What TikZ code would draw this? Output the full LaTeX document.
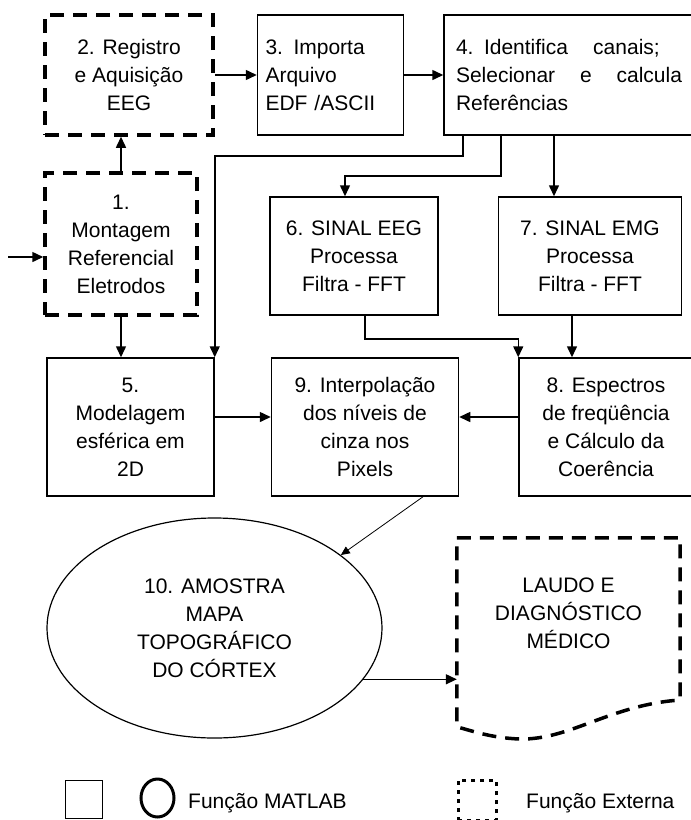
\documentclass[tikz,border=0pt]{standalone}
\usepackage{fontspec}
\setmainfont{Liberation Sans}
\usetikzlibrary{positioning,arrows.meta,shapes.geometric}
\newcommand{\boxfont}{\fontsize{21}{28}\selectfont}

\begin{document}
\begin{tikzpicture}[
    x=1pt, y=-1pt,
    >={Triangle[length=11pt,width=10pt]},
    proc/.style={rectangle, draw=black, line width=1.5pt, align=center, inner sep=3pt, font=\boxfont},
    ext/.style={proc, line width=3.5pt, dash pattern=on 14pt off 9pt},
    arrow/.style={->, line width=1.5pt}
  ]
  \useasboundingbox (0,0) rectangle (691,820);

  \node[ext, minimum width=168pt, minimum height=120pt] (reg) at (129,75) {2. Registro\\e Aquisição\\EEG};
  \node[proc, minimum width=146pt, minimum height=120pt, align=left, text width=130pt, right=42pt of reg] (imp) {3. Importa\\Arquivo\\EDF /ASCII};
  \node[proc, minimum width=250pt, minimum height=120pt, align=left, text width=226pt, right=39pt of imp] (ident) {4. Identifica\hspace{1.2em}canais;\\Selecionar\hfill e\hfill calcula\\Referências};

  \node[ext, minimum width=152pt, minimum height=142pt] (mont) at (121,244) {1.\\Montagem\\Referencial\\Eletrodos};
  \node[proc, minimum width=168pt, minimum height=118pt] (eeg) at (354,256) {6. SINAL EEG\\Processa\\Filtra - FFT};
  \node[proc, minimum width=183pt, minimum height=118pt, right=59pt of eeg] (emg) {7. SINAL EMG\\Processa\\Filtra - FFT};

  \node[proc, minimum width=167pt, minimum height=138pt] (mod) at (130.5,427) {5.\\Modelagem\\esférica em\\2D};
  \node[proc, minimum width=187pt, minimum height=138pt, right=56pt of mod] (interp) {9. Interpolação\\dos níveis de\\cinza nos\\Pixels};
  \node[proc, minimum width=174pt, minimum height=138pt, right=59pt of interp] (espec) {8. Espectros\\de freqüência\\e Cálculo da\\Coerência};

  \node[ellipse, draw=black, line width=1.2pt, minimum width=335pt, minimum height=220pt, inner sep=0pt, align=center, font=\boxfont] (mapa) at (214.5,628) {10. AMOSTRA\\MAPA\\TOPOGRÁFICO\\DO CÓRTEX};
  \node[align=center, font=\boxfont, minimum width=223pt, minimum height=150pt, inner sep=0pt] (laudo) at (568.5,613) {LAUDO E\\DIAGNÓSTICO\\MÉDICO};
  \draw[line width=3.5pt, dash pattern=on 14pt off 9pt] (laudo.north west) -- (laudo.north east) -- (680,700)
    .. controls (610,705) and (570,740) .. (520,739) .. controls (490,738) and (470,730) .. (457,727) -- cycle;

  % ligacoes
  \coordinate (entrada) at (8,257);
  \draw[arrow] (entrada) -- (entrada -| mont.west);
  \draw[arrow] (mont.north) -- (mont.north |- reg.south);
  \draw[arrow] (reg) -- (imp);
  \draw[arrow] (imp) -- (ident);
  \draw[arrow] ([xshift=-106pt]ident.south) -- ++(0,20) -| (mod.north east);
  \draw[arrow] ([xshift=-68pt]ident.south) -- ++(0,40) -| ([xshift=-9pt]eeg.north);
  \draw[arrow] ([xshift=-15pt]ident.south) -- ([xshift=-15pt]ident.south |- emg.north);
  \draw[arrow] (mont.south) -- (mont.south |- mod.north);
  \draw[arrow] ([xshift=11pt]eeg.south) -- ++(0,23) -| (espec.north west);
  \draw[arrow] ([xshift=-18pt]emg.south) -- ([xshift=-18pt]emg.south |- espec.north);
  \draw[arrow] ([yshift=10pt]mod.east) -- ([yshift=10pt]interp.west);
  \draw[arrow] ([yshift=10pt]espec.west) -- ([yshift=10pt]interp.east);
  \draw[->, >={Triangle[length=9pt,width=8pt]}, line width=0.8pt] ([xshift=58pt]interp.south) -- (mapa.30);
  \draw[arrow] (mapa.-19) -- (mapa.-19 -| laudo.west);

  % legenda
  \node[draw, line width=1pt, minimum width=37pt, minimum height=38pt, inner sep=0pt] (legquad) at (83.5,799) {};
  \node[ellipse, draw, line width=3pt, minimum width=33pt, minimum height=38pt, inner sep=0pt] (legcirc) at (157.5,798) {};
  \node[anchor=west, font=\boxfont, inner sep=0pt] (legmat) at (188,803) {Função MATLAB};
  \node[draw, line width=3pt, dash pattern=on 4pt off 5pt, minimum width=38pt, minimum height=40pt, inner sep=0pt] (legext) at (477,800) {};
  \node[anchor=west, font=\boxfont, inner sep=0pt] (legtxt) at (526,803) {Função Externa};
\end{tikzpicture}
\end{document}
